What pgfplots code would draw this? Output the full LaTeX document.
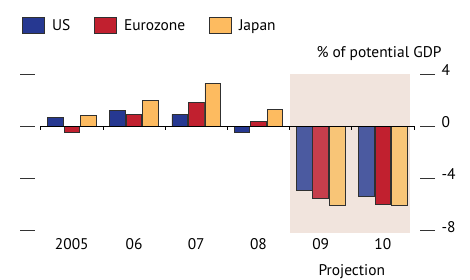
\documentclass[border=0pt]{standalone}
\usepackage{fontspec}
\setmainfont{PT Sans}
\usepackage{pgfplots}
\pgfplotsset{compat=1.18}
\definecolor{usc}{HTML}{263891}
\definecolor{ezc}{HTML}{C1202F}
\definecolor{jpc}{HTML}{FDBB60}
\definecolor{usl}{HTML}{4B5AA0}
\definecolor{ezl}{HTML}{C63E4C}
\definecolor{jpl}{HTML}{F8C577}
\definecolor{bgshade}{HTML}{F1E4DD}
\definecolor{edge}{HTML}{303030}
\begin{document}
\begin{tikzpicture}
\useasboundingbox (0bp,0bp) rectangle (470bp,280bp);
\begin{axis}[
  at={(20bp,49.3bp)}, anchor=south west,
  scale only axis, width=415bp, height=156.7bp,
  xmin=-0.833, xmax=5.838, ymin=-8, ymax=4,
  clip=false,
  axis line style={draw=none},
  font=\fontsize{15.5}{18}\selectfont,
  xtick={0,1,2,3,4,5},
  xticklabels={2005,06,07,08,09,10},
  x tick style={draw=none},
  xticklabel style={yshift=-4bp},
  ytick={-8,-4,0,4},
  yticklabels={-8,-4,0,4},
  yticklabel pos=right,
  ytick pos=both,
  tick align=inside,
  major tick length=15bp,
  y tick style={draw=black!80, line width=0.9pt},
  yticklabel style={xshift=3bp, yshift=4bp},
  legend columns=3,
  legend image code/.code={\draw[#1] (0bp,-8bp) rectangle (22bp,8bp);},
  legend style={at={(axis description cs:0.005,1.365)}, anchor=north west,
    draw=none, fill=none, inner sep=0pt, font=\fontsize{15.5}{18}\selectfont,
    /tikz/every odd column/.append style={column sep=5bp},
    /tikz/every even column/.append style={column sep=22bp}},
  legend cell align=left,
]
\fill[bgshade] (axis cs:3.5,4) rectangle (axis cs:5.44,-8.15);
\addplot[ybar, bar width=0.25, bar shift=-0.265, fill=usc, draw=edge, line width=0.8pt]
  coordinates {(0,0.7) (1,1.2) (2,0.9) (3,-0.5)};
\addplot[ybar, bar width=0.25, bar shift=0, fill=ezc, draw=edge, line width=0.8pt]
  coordinates {(0,-0.5) (1,0.9) (2,1.8) (3,0.4)};
\addplot[ybar, bar width=0.25, bar shift=0.265, fill=jpc, draw=edge, line width=0.8pt]
  coordinates {(0,0.8) (1,2.0) (2,3.3) (3,1.3)};
\legend{US,Eurozone,Japan}
\addplot[ybar, bar width=0.25, bar shift=-0.265, fill=usl, draw=edge, line width=0.8pt, forget plot]
  coordinates {(4,-4.9) (5,-5.4)};
\addplot[ybar, bar width=0.25, bar shift=0, fill=ezl, draw=edge, line width=0.8pt, forget plot]
  coordinates {(4,-5.5)};
\addplot[ybar, bar width=0.25, bar shift=0, fill=ezc, draw=edge, line width=0.8pt, forget plot]
  coordinates {(5,-6.0)};
\addplot[ybar, bar width=0.25, bar shift=0.265, fill=jpl, draw=edge, line width=0.8pt, forget plot]
  coordinates {(4,-6.1) (5,-6.1)};
\draw[black, line width=1.4pt] (axis cs:-0.5,0) -- (axis cs:5.5,0);
\pgfplotsinvokeforeach{-0.5,0.5,1.5,2.5,3.5,4.5,5.5}{
  \draw[black, line width=0.8pt] (axis cs:#1,0) -- ([yshift=-4bp]axis cs:#1,0);
}
\node[anchor=base east, font=\fontsize{15.5}{18}\selectfont] at (axis cs:6.0,5.3) {\% of potential GDP};
\node[anchor=north, yshift=-30bp, font=\fontsize{15.5}{18}\selectfont] at (axis cs:4.5,-8) {Projection};
\end{axis}
\end{tikzpicture}
\end{document}
